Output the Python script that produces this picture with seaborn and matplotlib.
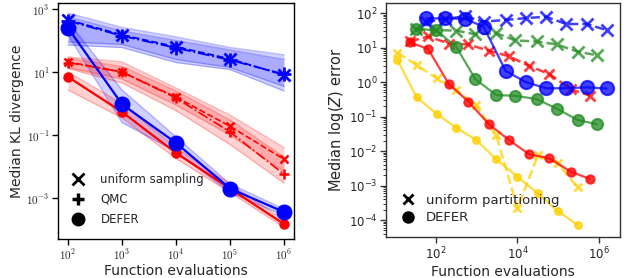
import numpy as np
import pandas as pd
import matplotlib
matplotlib.use("Agg")
import matplotlib.pyplot as plt
from matplotlib.lines import Line2D
from matplotlib.ticker import FixedLocator, LogLocator, NullFormatter, NullLocator
import seaborn as sns

# ---------------- Left panel data ----------------
evals_left = [1e2, 1e3, 1e4, 1e5, 1e6]

blue_unif = [450, 150, 63, 26, 8]
blue_unif_lo = [90, 75, 25, 14, 3.5]
blue_unif_hi = [740, 260, 130, 60, 35]
blue_qmc = [420, 140, 58, 24, 8.5]
blue_qmc_lo = [72, 60, 20, 12, 2.5]
blue_qmc_hi = [560, 200, 100, 50, 25]
blue_defer = [250, 0.95, 0.056, 0.002, 0.00036]
blue_defer_lo = [150, 0.25, 0.03, 0.0015, 0.00028]
blue_defer_hi = [400, 2.7, 0.087, 0.0028, 0.00045]

red_unif = [21, 10, 1.6, 0.19, 0.017]
red_unif_lo = [14, 6, 0.9, 0.1, 0.007]
red_unif_hi = [30, 21, 3.1, 0.43, 0.04]
red_qmc = [20, 10, 1.5, 0.125, 0.0057]
red_qmc_lo = [13, 4.5, 0.6, 0.05, 0.003]
red_qmc_hi = [28, 15, 2.5, 0.3, 0.02]
red_defer = [7, 0.54, 0.027, 0.002, 0.00015]
red_defer_lo = [2.7, 0.35, 0.018, 0.0015, 0.00012]
red_defer_hi = [10, 1.0, 0.04, 0.0028, 0.0002]

left_labels = ["uniform sampling", "QMC", "DEFER"]

# ---------------- Right panel data ----------------
blue_x_defer = [10**1.76, 10**2.22, 10**2.71, 10**3.17, 10**3.71, 10**4.2, 10**4.70, 10**5.19, 10**5.69, 10**6.18]
blue_y_defer = [70, 70, 68, 40, 2.1, 1.0, 0.66, 0.66, 0.70, 0.65]
blue_y_unif = [56, 66, 81, 56, 63, 71, 78, 48, 48, 32]

green_x = [10**1.51, 10**2.0, 10**2.5, 10**2.97, 10**3.48, 10**3.95, 10**4.47, 10**4.96, 10**5.47, 10**5.94]
green_y_defer = [34, 32, 10.5, 1.2, 0.42, 0.40, 0.32, 0.17, 0.08, 0.06]
green_y_unif = [34, 32, 31, 24, 26, 16, 15, 12.3, 7.6, 6.0]

red_x = [10**1.37, 10**1.81, 10**2.32, 10**2.80, 10**3.30, 10**3.79, 10**4.29, 10**4.78, 10**5.31, 10**5.78]
red_y_defer = [14, 9.1, 0.87, 0.27, 0.06, 0.021, 0.008, 0.0062, 0.0025, 0.00155]
red_y_unif = [15, 21, 13, 12.3, 8, 5.6, 2.9, 1.7, 0.62, 0.40]

yellow_x = [10**1.06, 10**1.53, 10**2.02, 10**2.49, 10**2.99, 10**3.48, 10**4.0, 10**4.5, 10**4.98, 10**5.47]
yellow_y_defer = [4.4, 0.36, 0.12, 0.048, 0.021, 0.0058, 0.0018, 0.00059, 0.000186, 0.0000725]
yellow_y_unif = [7.1, 3.1, 1.3, 0.6, 0.21, 0.029, 0.00022, 0.0076, 0.0044, 0.00089]

right_labels = ["uniform partitioning", "DEFER"]

BLUE = "#0000ff"
RED = "#ff0000"
GREEN = "#228b22"
GOLD = "#ffd000"

sns.set_theme(style="white")
plt.rcParams["font.family"] = ["DejaVu Sans"]
plt.rcParams["mathtext.fontset"] = "cm"

fig = plt.figure(figsize=(6.24, 2.78), dpi=100)
axL = fig.add_axes([58/624, 1-239/278, (294-58)/624, (239-3)/278])
axR = fig.add_axes([386/624, 1-237/278, (620-386)/624, (237-3)/278])

# ---------- left ----------
def band(ax, x, lo, hi, color, alpha=0.18):
    ax.fill_between(x, lo, hi, color=color, alpha=alpha, lw=0)
    ax.plot(x, lo, color=color, alpha=0.25, lw=1)
    ax.plot(x, hi, color=color, alpha=0.25, lw=1)

band(axL, evals_left, blue_unif_lo, blue_unif_hi, BLUE)
band(axL, evals_left, blue_qmc_lo, blue_qmc_hi, BLUE)
band(axL, evals_left, blue_defer_lo, blue_defer_hi, BLUE)
band(axL, evals_left, red_unif_lo, red_unif_hi, RED)
band(axL, evals_left, red_qmc_lo, red_qmc_hi, RED)
band(axL, evals_left, red_defer_lo, red_defer_hi, RED)

def line(ax, x, y, color, marker, ls, ms, mew=1.5, lw=1.6, alpha=1.0):
    sns.lineplot(x=x, y=y, ax=ax, color=color, marker=marker, linestyle=ls,
                 markersize=ms, markeredgecolor=color, markerfacecolor=color,
                 markeredgewidth=mew, lw=lw, alpha=alpha, errorbar=None, sort=False)

line(axL, evals_left, red_unif, RED, "x", "--", 6, mew=1.8, lw=1.2)
line(axL, evals_left, red_qmc, RED, "+", "-.", 7, mew=1.8, lw=1.2)
line(axL, evals_left, red_defer, RED, "o", "-", 6)
line(axL, evals_left, blue_unif, BLUE, "x", "--", 9, mew=2, lw=1.3)
line(axL, evals_left, blue_qmc, BLUE, "+", "-.", 10, mew=2, lw=1.3)
line(axL, evals_left, blue_defer, BLUE, "o", "-", 10)

axL.set_xscale("log")
axL.set_yscale("log")
axL.set_xlim(10**1.815, 10**6.185)
axL.set_ylim(10**-4.3, 10**3.19)
lx = [1e2, 1e3, 1e4, 1e5, 1e6]
axL.set_xticks(lx, [r"$10^{%d}$" % i for i in range(2, 7)])
axL.xaxis.set_minor_locator(NullLocator())
ly = [1e-3, 1e-1, 1e1, 1e3]
axL.set_yticks(ly, [r"$10^{-3}$", r"$10^{-1}$", r"$10^{1}$", r"$10^{3}$"])
axL.yaxis.set_minor_locator(NullLocator())
axL.tick_params(axis="both", which="major", length=4, width=1, labelsize=8,
                direction="out", bottom=True, left=True, color="black", pad=2)
for s in axL.spines.values():
    s.set_color("black")
    s.set_linewidth(1)
axL.set_xlabel("Function evaluations", fontsize=10, labelpad=1)
axL.set_ylabel("Median KL divergence", fontsize=10, labelpad=2)

hL = [Line2D([], [], color="black", marker="x", ls="none", ms=8, mew=2),
      Line2D([], [], color="black", marker="+", ls="none", ms=8, mew=2.5),
      Line2D([], [], color="black", marker="o", ls="none", ms=9)]
axL.legend(hL, left_labels, loc="lower left", frameon=False, fontsize=8.5,
           handletextpad=0.9, borderaxespad=0.3, labelspacing=0.6,
           bbox_to_anchor=(0.0, 0.02))

# ---------- right ----------
A = 0.75
line(axR, yellow_x, yellow_y_unif, GOLD, "x", "--", 6, mew=2, lw=1.8, alpha=A)
line(axR, red_x, red_y_unif, RED, "x", "--", 7, mew=2, lw=1.8, alpha=A)
line(axR, green_x, green_y_unif, GREEN, "x", "--", 8, mew=2, lw=1.8, alpha=A)
line(axR, blue_x_defer, blue_y_unif, BLUE, "x", "--", 8, mew=2, lw=1.8, alpha=A)
line(axR, yellow_x, yellow_y_defer, GOLD, "o", "-", 5, lw=1.6, alpha=A)
line(axR, red_x, red_y_defer, RED, "o", "-", 6, lw=1.6, alpha=A)
line(axR, green_x, green_y_defer, GREEN, "o", "-", 8, lw=1.6, alpha=A)
line(axR, blue_x_defer, blue_y_defer, BLUE, "o", "-", 9.5, lw=1.6, alpha=A)

axR.set_xscale("log")
axR.set_yscale("log")
axR.set_xlim(10**0.78, 10**6.51)
axR.set_ylim(10**-4.49, 10**2.29)
rx = [1e2, 1e4, 1e6]
axR.set_xticks(rx, [r"$10^{2}$", r"$10^{4}$", r"$10^{6}$"])
axR.xaxis.set_minor_locator(NullLocator())
ry = [1e-4, 1e-3, 1e-2, 1e-1, 1e0, 1e1, 1e2]
axR.set_yticks(ry, [r"$10^{-4}$", r"$10^{-3}$", r"$10^{-2}$", r"$10^{-1}$",
                    r"$10^{0}$", r"$10^{1}$", r"$10^{2}$"])
axR.yaxis.set_minor_locator(LogLocator(base=10, subs=np.arange(2, 10), numticks=20))
axR.yaxis.set_minor_formatter(NullFormatter())
axR.tick_params(axis="both", which="major", length=4, width=1, labelsize=8.5,
                direction="out", bottom=True, left=True, color="#333333", pad=2)
axR.tick_params(axis="y", which="minor", length=2, width=0.7, left=True, color="#333333")
for lbl in axR.get_xticklabels() + axR.get_yticklabels():
    lbl.set_math_fontfamily("dejavusans")
for s in axR.spines.values():
    s.set_color("#333333")
    s.set_linewidth(1)
axR.set_xlabel("Function evaluations", fontsize=10, labelpad=2)
axR.set_ylabel(r"Median $\log(Z)$ error", fontsize=10.5, labelpad=2,
               math_fontfamily="dejavusans")

hR = [Line2D([], [], color="black", marker="x", ls="none", ms=7, mew=2),
      Line2D([], [], color="black", marker="o", ls="none", ms=8)]
axR.legend(hR, right_labels, loc="lower left", frameon=False, fontsize=9.5,
           handletextpad=0.3, borderaxespad=0.3, labelspacing=0.35,
           bbox_to_anchor=(0.0, 0.015))

fig.savefig("out.png", dpi=100)
